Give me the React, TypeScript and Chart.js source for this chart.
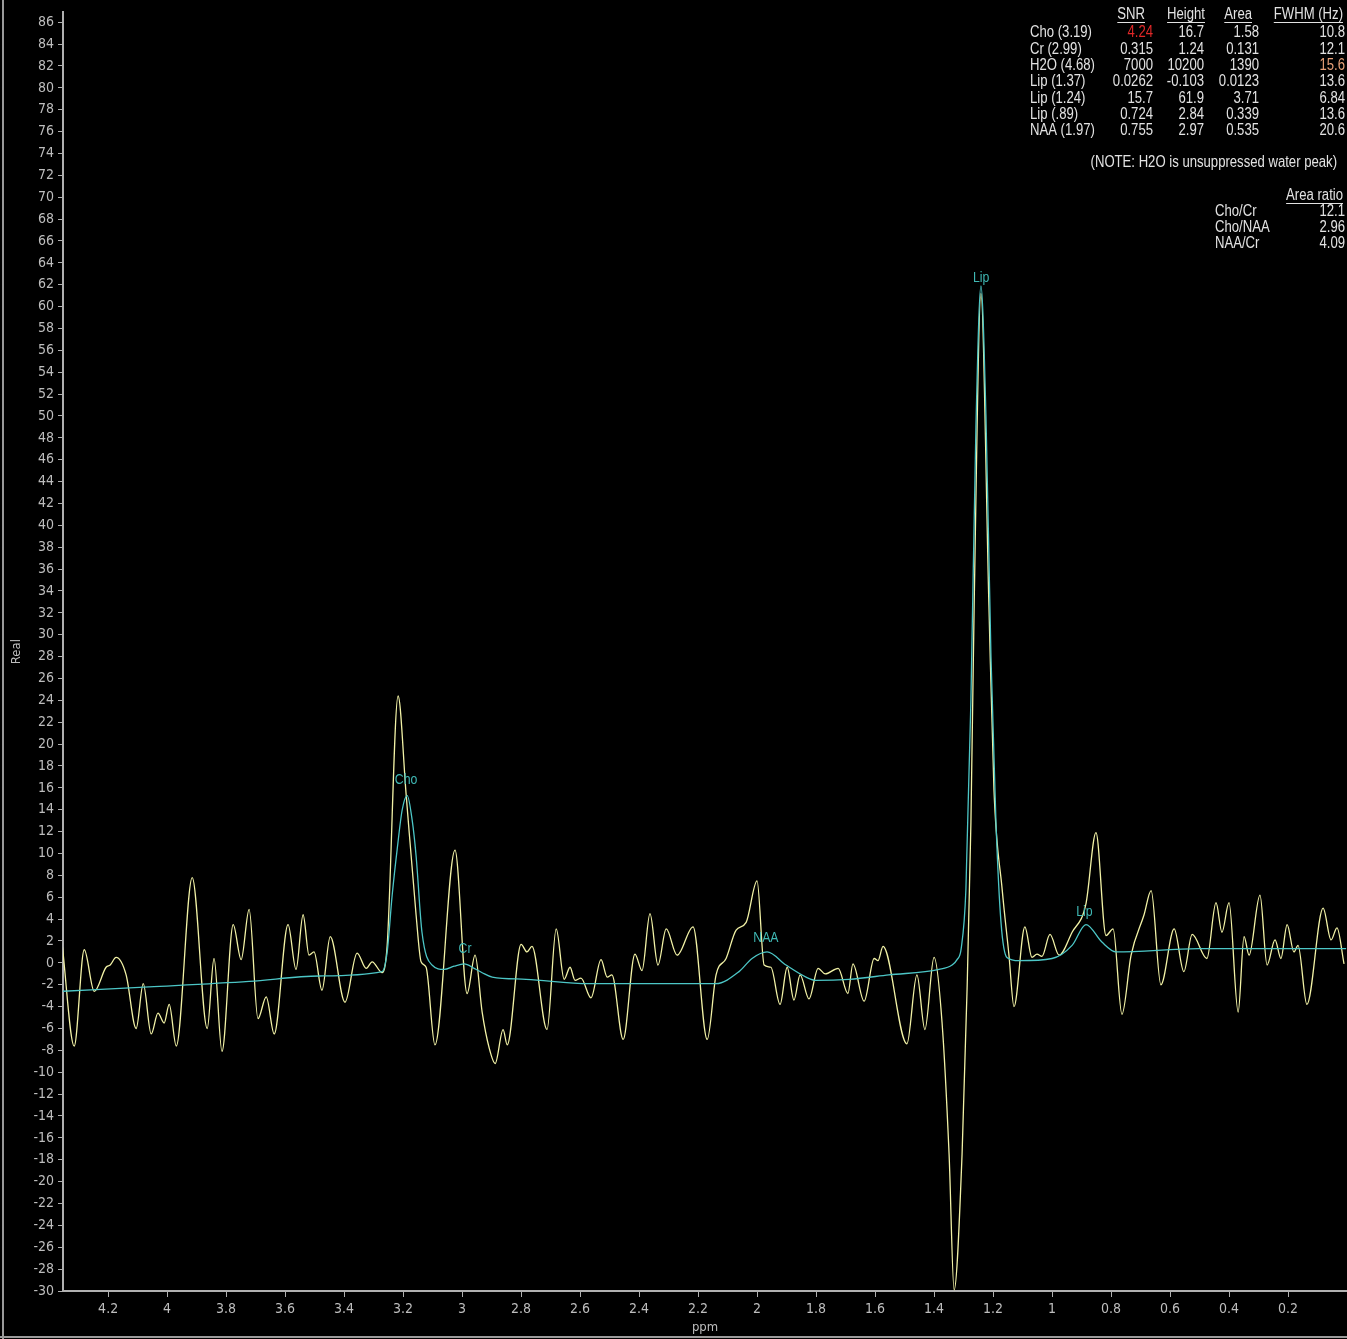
import React, { useEffect, useRef } from "react";
import { Chart, registerables } from "chart.js";

Chart.register(...registerables);

// ---- Measured spectrum (yellow, "Real") ----
const specPpm = [
  4.356, 4.315, 4.281, 4.247, 4.207, 4.193, 4.173, 4.139, 4.105, 4.081, 4.054, 4.031, 4.01, 3.993, 3.969,
  3.915, 3.864, 3.841, 3.814, 3.776, 3.749, 3.722, 3.692, 3.664, 3.637, 3.59, 3.563, 3.539, 3.519, 3.502,
  3.475, 3.447, 3.397, 3.356, 3.325, 3.305, 3.271, 3.254, 3.217, 3.19, 3.156, 3.139, 3.122, 3.092, 3.024,
  2.983, 2.956, 2.932, 2.908, 2.888, 2.861, 2.847, 2.8, 2.78, 2.763, 2.712, 2.681, 2.654, 2.634, 2.617,
  2.597, 2.563, 2.529, 2.508, 2.492, 2.454, 2.414, 2.39, 2.363, 2.336, 2.308, 2.271, 2.217, 2.169, 2.139,
  2.105, 2.071, 2.037, 2.0, 1.976, 1.953, 1.922, 1.898, 1.875, 1.854, 1.824, 1.793, 1.769, 1.725, 1.692,
  1.675, 1.637, 1.603, 1.59, 1.573, 1.492, 1.458, 1.431, 1.4, 1.373, 1.349, 1.332, 1.305, 1.288, 1.275,
  1.264, 1.241, 1.214, 1.197, 1.169, 1.146, 1.129, 1.092, 1.068, 1.051, 1.034, 1.007, 0.976, 0.932, 0.885,
  0.851, 0.817, 0.793, 0.763, 0.732, 0.688, 0.664, 0.631, 0.586, 0.553, 0.525, 0.475, 0.444, 0.424, 0.4,
  0.369, 0.349, 0.332, 0.295, 0.271, 0.244, 0.224, 0.203, 0.18, 0.166, 0.136, 0.081, 0.054, 0.034, 0.01,
];
const specReal = [
  1.7, -7.6, 1.2, -2.6, -0.4, -0.2, 0.5, -1.1, -6.0, -1.9, -6.5, -4.6, -5.5, -3.8, -7.6,
  7.8, -6.0, 0.4, -8.1, 3.5, 0.3, 4.9, -5.1, -3.1, -6.5, 3.5, -0.6, 4.4, 0.7, 1.0,
  -2.5, 2.4, -3.6, 0.9, -0.5, 0.1, -0.9, 1.6, 24.4, 15.5, 4.4, 0.1, -0.4, -7.5, 10.3,
  -2.8, 0.7, -4.5, -7.8, -9.2, -6.1, -7.5, 1.7, 1.0, 1.5, -6.1, 3.1, -1.5, -0.4, -1.6,
  -1.4, -3.2, 0.3, -1.3, -1.1, -7.0, 0.8, -0.7, 4.5, -0.2, 3.1, 0.7, 3.3, -7.0, -1.1,
  0.4, 3.0, 3.7, 7.5, -0.2, -0.4, -3.8, -0.4, -3.4, -1.1, -3.3, -0.5, -1.0, -0.5, -2.8,
  -0.1, -3.5, 0.4, 0.2, 1.5, -7.4, -1.1, -6.1, 0.5, -5.4, -17.5, -29.9, -17.5, -2.4, 12.8,
  32.7, 61.2, 32.7, 15.9, 6.7, 0.7, -4.0, 3.3, 0.5, 0.8, 0.6, 2.6, 0.7, 2.8, 5.4,
  11.9, 2.5, 3.1, -4.7, 0.7, 4.4, 6.6, -2.0, 3.1, -0.8, 2.6, 0.4, 5.5, 2.8, 5.5,
  -4.5, 2.4, 0.7, 6.2, -0.2, 2.1, 0.4, 3.5, 1.0, 1.6, -3.8, 5.0, 2.1, 3.2, -0.1,
];

// ---- Fitted curve (cyan) ----
const fitPpm = [
  4.356, 4.061, 3.722, 3.485, 3.271, 3.254, 3.237, 3.22, 3.203, 3.186, 3.169, 3.156, 3.136, 3.102, 3.061,
  3.027, 2.993, 2.959, 2.932, 2.898, 2.783, 2.569, 2.139, 2.061, 2.017, 1.966, 1.902, 1.834, 1.8, 1.688,
  1.553, 1.383, 1.339, 1.322, 1.308, 1.292, 1.275, 1.258, 1.241, 1.224, 1.207, 1.19, 1.173, 1.153, 1.112,
  1.0, 0.932, 0.885, 0.831, 0.783, 0.502, 0.003,
];
const fitReal = [
  -2.6, -2.2, -1.7, -1.2, -0.8, 1.0, 6.2, 10.4, 14.0, 15.3, 13.0, 9.8, 2.8, -0.2, -0.6,
  -0.3, -0.1, -0.5, -0.9, -1.3, -1.5, -1.9, -1.9, -0.8, 0.4, 1.0, -0.2, -1.3, -1.6, -1.5,
  -1.1, -0.6, -0.2, 0.3, 1.3, 6.7, 24.0, 49.0, 61.9, 50.0, 28.0, 12.8, 3.7, 0.5, 0.2,
  0.4, 1.6, 3.5, 1.9, 1.0, 1.3, 1.3,
];

// ---- Peak labels ----
const peakNames = ["Cho", "Cr", "NAA", "Lip", "Lip"];
const peakPpm = [3.19, 2.99, 1.97, 1.24, 0.89];
const peakLabelReal = [16.7, 1.3, 2.3, 62.6, 4.7];

// ---- Results table ----
const tableHeaders = ["SNR", "Height", "Area", "FWHM (Hz)"];
const metabolites = ["Cho (3.19)", "Cr (2.99)", "H2O (4.68)", "Lip (1.37)", "Lip (1.24)", "Lip (.89)", "NAA (1.97)"];
const snrValues = ["4.24", "0.315", "7000", "0.0262", "15.7", "0.724", "0.755"];
const heightValues = ["16.7", "1.24", "10200", "-0.103", "61.9", "2.84", "2.97"];
const areaValues = ["1.58", "0.131", "1390", "0.0123", "3.71", "0.339", "0.535"];
const fwhmValues = ["10.8", "12.1", "15.6", "13.6", "6.84", "13.6", "20.6"];
const noteText = "(NOTE: H2O is unsuppressed water peak)";
const ratioHeader = "Area ratio";
const ratioNames = ["Cho/Cr", "Cho/NAA", "NAA/Cr"];
const ratioValues = ["12.1", "2.96", "4.09"];

// ---- Axes ----
const yMin = -30;
const yMax = 86.9;
const yStep = 2;
const xMin = 0;
const xMax = 4.353;
const xStep = 0.2;

const W = 1347;
const H = 1339;
const SANS = "'Liberation Sans', Arial, sans-serif";
const CONDENSED = "'DejaVu Sans Condensed', 'Liberation Sans Narrow', sans-serif";
const NARROW_SCALE = 0.82;
const TEXT = "#e2e2e2";
const AXIS = "#b0b0b0";
const TICKTXT = "#bdbdbd";
const YELLOW = "#f2f2a6";
const CYAN = "#4cc6c6";
const LABEL = "#3fb8b4";

function narrowText(ctx: any, text: string, x: number, y: number, align: "left" | "right" | "center") {
  const w = ctx.measureText(text).width * NARROW_SCALE;
  let left = x;
  if (align === "right") left = x - w;
  else if (align === "center") left = x - w / 2;
  ctx.save();
  ctx.translate(left, y);
  ctx.scale(NARROW_SCALE, 1);
  ctx.textAlign = "left";
  ctx.fillText(text, 0, 0);
  ctx.restore();
  return w;
}

const overlayPlugin = {
  id: "overlay",
  beforeDraw(chart: any) {
    const ctx = chart.ctx;
    ctx.save();
    ctx.fillStyle = "#000";
    ctx.fillRect(0, 0, W, H);
    ctx.fillStyle = "#9a9a9a";
    ctx.fillRect(2, 0, 2, H);
    ctx.fillRect(0, H - 3, W, 2);
    ctx.restore();
  },
  afterDatasetsDraw(chart: any) {
    const ctx = chart.ctx;
    const xs = chart.scales.x;
    const ys = chart.scales.y;
    ctx.save();
    ctx.font = `15px ${SANS}`;
    ctx.fillStyle = LABEL;
    ctx.textBaseline = "middle";
    peakNames.forEach((n, i) => {
      narrowText(ctx, n, xs.getPixelForValue(peakPpm[i]), ys.getPixelForValue(peakLabelReal[i]), "center");
    });
    ctx.restore();
  },
  afterDraw(chart: any) {
    const ctx = chart.ctx;
    ctx.save();
    ctx.font = `16px ${SANS}`;
    ctx.textBaseline = "middle";
    ctx.fillStyle = TEXT;
    const headRight = [1145, 1205, 1252, 1343];
    tableHeaders.forEach((h, i) => {
      const w = narrowText(ctx, h, headRight[i], 15, "right");
      ctx.fillRect(headRight[i] - w, 22, w, 1);
    });
    const colRight = [1153, 1204, 1259, 1345];
    metabolites.forEach((m, i) => {
      const y = 33 + i * 16.3;
      ctx.fillStyle = TEXT;
      narrowText(ctx, m, 1030, y, "left");
      ctx.fillStyle = i === 0 ? "#e02828" : TEXT;
      narrowText(ctx, snrValues[i], colRight[0], y, "right");
      ctx.fillStyle = TEXT;
      narrowText(ctx, heightValues[i], colRight[1], y, "right");
      narrowText(ctx, areaValues[i], colRight[2], y, "right");
      ctx.fillStyle = i === 2 ? "#e8a078" : TEXT;
      narrowText(ctx, fwhmValues[i], colRight[3], y, "right");
    });
    ctx.fillStyle = TEXT;
    narrowText(ctx, noteText, 1337, 163, "right");
    const rw = narrowText(ctx, ratioHeader, 1343, 196, "right");
    ctx.fillRect(1343 - rw, 203, rw, 1);
    ratioNames.forEach((r, i) => {
      const y = 212 + i * 16;
      narrowText(ctx, r, 1215, y, "left");
      narrowText(ctx, ratioValues[i], 1345, y, "right");
    });
    ctx.restore();
  },
};

export default function App() {
  const ref = useRef<HTMLCanvasElement | null>(null);
  useEffect(() => {
    if (!ref.current) return;
    const spec = specPpm.map((p, i) => ({ x: p, y: specReal[i] }));
    const fit = fitPpm.map((p, i) => ({ x: p, y: fitReal[i] }));
    const chart = new Chart(ref.current, {
      type: "line",
      data: {
        datasets: [
          {
            label: "Fit",
            data: fit,
            borderColor: CYAN,
            borderWidth: 1.3,
            pointRadius: 0,
            cubicInterpolationMode: "monotone",
            order: 0,
          },
          {
            label: "Real",
            data: spec,
            borderColor: YELLOW,
            borderWidth: 1.3,
            pointRadius: 0,
            cubicInterpolationMode: "monotone",
            order: 1,
          },
        ],
      },
      options: {
        animation: false,
        responsive: false,
        devicePixelRatio: 1,
        parsing: false,
        normalized: false,
        layout: { padding: { top: 5, left: 0, right: 0, bottom: 0 } },
        plugins: { legend: { display: false }, tooltip: { enabled: false } },
        scales: {
          x: {
            type: "linear",
            reverse: true,
            min: xMin,
            max: xMax,
            afterFit: (s: any) => {
              s.height = 48;
            },
            afterBuildTicks: (s: any) => {
              s.ticks = s.ticks.filter((t: any) => t.value > 0.05 && t.value < 4.3);
            },
            ticks: {
              stepSize: xStep,
              includeBounds: false,
              autoSkip: false,
              maxRotation: 0,
              color: TICKTXT,
              padding: 4,
              font: { family: CONDENSED, size: 14 },
              callback: (v: any) => String(Number(Number(v).toFixed(1))),
            },
            grid: { drawOnChartArea: false, drawTicks: true, tickLength: 6, tickColor: AXIS, tickWidth: 1 },
            border: { display: true, color: AXIS, width: 2 },
            title: {
              display: true,
              text: "ppm",
              color: TICKTXT,
              font: { family: CONDENSED, size: 13 },
              padding: { top: 0, bottom: 4 },
            },
          },
          y: {
            type: "linear",
            min: yMin,
            max: yMax,
            afterFit: (s: any) => {
              s.width = 63;
            },
            ticks: {
              stepSize: yStep,
              includeBounds: false,
              autoSkip: false,
              color: TICKTXT,
              padding: 4,
              font: { family: CONDENSED, size: 14 },
              callback: (v: any) => String(Math.round(Number(v))),
            },
            grid: { drawOnChartArea: false, drawTicks: true, tickLength: 5, tickColor: AXIS, tickWidth: 1 },
            border: { display: true, color: AXIS, width: 2 },
            title: {
              display: true,
              text: "Real",
              color: TICKTXT,
              font: { family: CONDENSED, size: 13 },
              padding: { top: 9, bottom: 0 },
            },
          },
        },
      },
      plugins: [overlayPlugin],
    } as any);
    return () => chart.destroy();
  }, []);
  return (
    <div style={{ position: "absolute", left: 0, top: 0, width: W, height: H, background: "#000", overflow: "hidden" }}>
      <canvas ref={ref} width={W} height={H} style={{ display: "block", width: W, height: H }} />
    </div>
  );
}
